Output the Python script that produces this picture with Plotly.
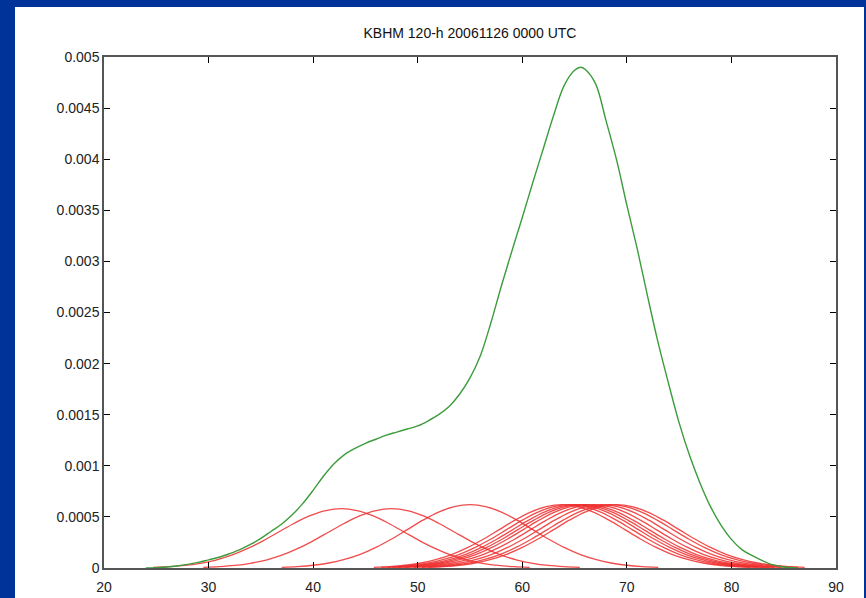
import plotly.graph_objects as go

title_text = "KBHM 120-h 20061126 0000 UTC"

# Ensemble total density (green)
green_x = [24, 25, 26, 27, 28, 29, 30, 31, 32, 33, 34, 35, 36, 37, 38, 39, 40, 41, 42, 43, 44, 45, 46, 47,
           48, 49, 50, 51, 52, 53, 54, 55, 56, 57, 58, 59, 60, 61, 62, 63, 64, 65, 65.6, 66, 67, 68, 69,
           70, 71, 72, 73, 74, 75, 76, 77, 78, 79, 80, 81, 82, 83, 84, 85, 86, 86.3]
green_y = [0.0, 0.000004, 0.00001, 0.00002, 0.000035, 0.000055, 0.00008, 0.000105, 0.00014, 0.00018,
           0.00023, 0.00029, 0.00036, 0.00043, 0.00052, 0.00063, 0.00076, 0.0009, 0.00102, 0.00111,
           0.00117, 0.00122, 0.00126, 0.0013, 0.00133, 0.00136, 0.00139, 0.00144, 0.0015, 0.00158,
           0.0017, 0.00186, 0.00208, 0.0024, 0.00276, 0.0031, 0.00343, 0.00377, 0.0041, 0.00443,
           0.00472, 0.00487, 0.0049, 0.00488, 0.00474, 0.00438, 0.004, 0.00355, 0.00312, 0.00265,
           0.0022, 0.0018, 0.00142, 0.0011, 0.00083, 0.0006, 0.00042, 0.00028, 0.00018, 0.00012,
           0.00007, 0.00003, 0.00001, 0.000002, 0.0]

# Individual member kernels (red): x offsets from each member's centre, and values
kernel_offsets = [-18, -16.5, -15, -13.5, -12, -10.5, -9, -7.5, -6, -4.5, -3, -1.5, 0,
                  1.5, 3, 4.5, 6, 7.5, 9, 10.5, 12, 13.5, 15, 16.5, 18]
member_centers = [42.7, 47.5, 55.0, 63.8, 64.5, 65.1, 65.6, 66.1, 66.8, 67.6, 68.4, 69.0]
k58 = [0.000006, 0.000013, 0.000025, 0.000046, 0.000078, 0.000125, 0.000189, 0.000266, 0.000352,
       0.000438, 0.000512, 0.000562, 0.000580, 0.000562, 0.000512, 0.000438, 0.000352, 0.000266,
       0.000189, 0.000125, 0.000078, 0.000046, 0.000025, 0.000013, 0.000006]
k62 = [0.000007, 0.000014, 0.000027, 0.000049, 0.000084, 0.000134, 0.000202, 0.000284, 0.000376,
       0.000468, 0.000547, 0.000601, 0.000620, 0.000601, 0.000547, 0.000468, 0.000376, 0.000284,
       0.000202, 0.000134, 0.000084, 0.000049, 0.000027, 0.000014, 0.000007]
member_values = [k58, k58, k62, k62, k62, k62, k62, k62, k62, k62, k62, k62]

x_ticks = [20, 30, 40, 50, 60, 70, 80, 90]
y_ticks = [0, 0.0005, 0.001, 0.0015, 0.002, 0.0025, 0.003, 0.0035, 0.004, 0.0045, 0.005]
y_tick_text = ["0", "0.0005", "0.001", "0.0015", "0.002", "0.0025", "0.003", "0.0035", "0.004", "0.0045", "0.005"]

fig = go.Figure()
for c, vals in zip(member_centers, member_values):
    fig.add_trace(go.Scatter(x=[c + o for o in kernel_offsets], y=vals, mode="lines",
                             line=dict(color="rgba(238,45,45,0.85)", width=1.3, shape="spline"),
                             showlegend=False, hoverinfo="skip"))
fig.add_trace(go.Scatter(x=green_x, y=green_y, mode="lines",
                         line=dict(color="#3c9c3c", width=1.4, shape="spline", smoothing=1.0),
                         showlegend=False))

W, H = 866, 598
L, R, T, B = 104, 30, 57, 30
pw, ph = W - L - R, H - T - B
blue = "#003399"
# blue frame: left, top and right strips (everything else white)
for x0, x1, y0, y1 in [(-1000, 15, -1000, 1000), (-1000, 2000, 7, -1000), (864, 2000, -1000, 1000)]:
    fig.add_shape(type="rect", xref="paper", yref="paper", layer="below",
                  x0=(x0 - L) / pw, x1=(x1 - L) / pw, y0=(H - B - y0) / ph, y1=(H - B - y1) / ph,
                  fillcolor=blue, line=dict(width=0))

axis_common = dict(showgrid=False, zeroline=False, showline=True, linecolor="#555555", linewidth=1.5,
                   mirror="ticks", ticks="inside", ticklen=6, tickcolor="black", tickwidth=1,
                   automargin=False,
                   tickfont=dict(family="Liberation Sans, Arial, sans-serif", size=14, color="#222222"))
fig.update_xaxes(range=[20, 90], tickvals=x_ticks, ticklabelstandoff=5, **axis_common)
fig.update_yaxes(range=[0, 0.005], tickvals=y_ticks, ticktext=y_tick_text, **axis_common)

fig.update_layout(
    width=W, height=H,
    margin=dict(l=L, r=R, t=T, b=B, autoexpand=False),
    paper_bgcolor="white", plot_bgcolor="white",
    title=dict(text=title_text, x=(L + pw / 2) / W, xanchor="center", y=1 - 33 / H, yanchor="middle",
               font=dict(family="Liberation Sans, Arial, sans-serif", size=14, color="#111111")),
)
fig.write_html("out.html")
